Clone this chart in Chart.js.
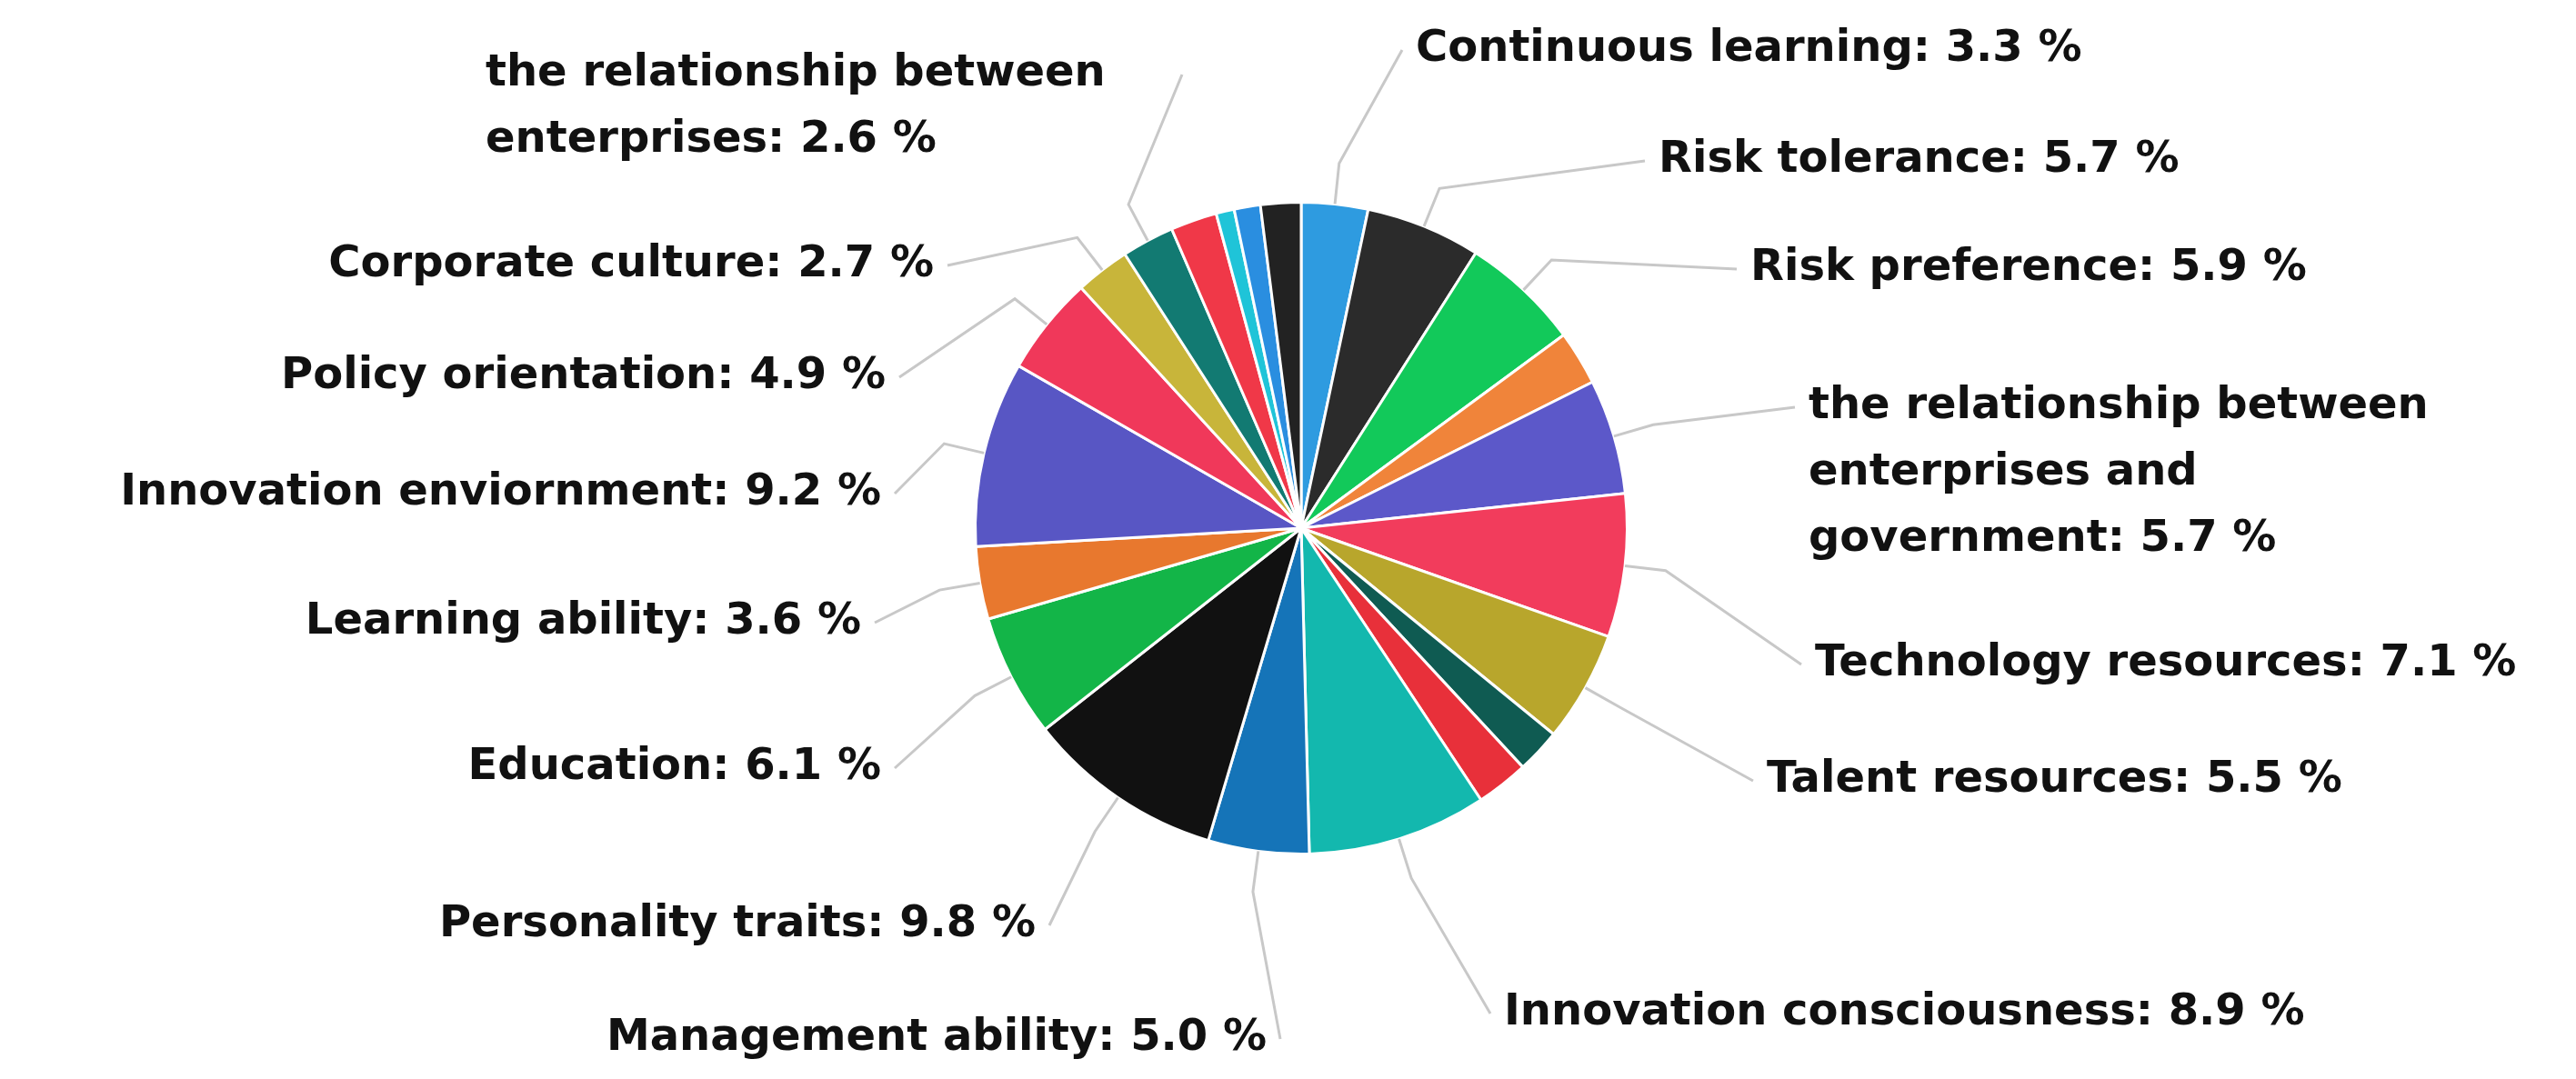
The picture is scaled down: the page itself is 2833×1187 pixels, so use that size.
<!DOCTYPE html>
<html><head><meta charset="utf-8">
<script src="https://cdn.jsdelivr.net/npm/chart.js@4/dist/chart.umd.min.js"></script>
<style>html,body{margin:0;background:#fff}#c{display:block}</style>
</head><body>
<div style="width:2833px;height:1187px"><canvas id="c"></canvas></div>
<script>
const categories = ['Continuous learning','Risk tolerance','Risk preference','',
  'the relationship between\nenterprises and\ngovernment','Technology resources','Talent resources','','',
  'Innovation consciousness','Management ability','Personality traits','Education','Learning ability',
  'Innovation enviornment','Policy orientation','Corporate culture','the relationship between\nenterprises','','','',''];
const values = [3.3,5.7,5.9,2.7,5.7,7.1,5.5,2.2,2.6,8.9,5.0,9.8,6.1,3.6,9.2,4.9,2.7,2.6,2.3,0.9,1.3,2.0];
const colors = ['#2e9be0','#2b2b2b','#12c95a','#f0843a','#5c58c9','#f23c5c','#b8a62c','#0f5b52','#e8303a',
  '#13b8ae','#1574b8','#111111','#13b548','#e8782e','#5856c4','#f0385a','#c8b53a','#127a72','#f03848','#1fc4d8','#2a8ee0','#222222'];
// label layout: [x, y, align, lineEndX]
const labelPos = [[1557,55,'left'],[1824,177,'left'],[1925,296,'left'],null,[1989,448,'left'],[1996,731,'left'],
  [1943,859,'left'],null,null,[1654,1115,'left'],[1393,1143,'right'],[1139,1018,'right'],[969,845,'right'],
  [947,685,'right'],[969,543,'right'],[974,415,'right'],[1027,292,'right'],[534,82,'left',1300],null,null,null,null];

const labelPlugin = {
  id: 'labels',
  afterDatasetsDraw(chart) {
    const ctx = chart.ctx;
    const meta = chart.getDatasetMeta(0);
    ctx.save();
    ctx.font = 'bold 48px "DejaVu Sans"';
    ctx.textBaseline = 'middle';
    meta.data.forEach((arc, i) => {
      const p = labelPos[i];
      if (!p) return;
      const mid = (arc.startAngle + arc.endAngle) / 2;
      const ex = arc.x + Math.cos(mid) * arc.outerRadius, ey = arc.y + Math.sin(mid) * arc.outerRadius;
      const ox = arc.x + Math.cos(mid) * (arc.outerRadius + 45), oy = arc.y + Math.sin(mid) * (arc.outerRadius + 45);
      const lines = (categories[i] + ': ' + values[i].toFixed(1) + ' %').split('\n');
      const lx = p[3] || (p[2] === 'left' ? p[0] - 15 : p[0] + 15);
      ctx.strokeStyle = '#c8c8c8'; ctx.lineWidth = 3;
      ctx.beginPath(); ctx.moveTo(ex, ey); ctx.lineTo(ox, oy); ctx.lineTo(lx, p[1]); ctx.stroke();
      ctx.fillStyle = '#111'; ctx.textAlign = p[2];
      lines.forEach((t, k) => ctx.fillText(t, p[0], p[1] + k * 73));
    });
    ctx.restore();
  }
};

new Chart(document.getElementById('c'), {
  type: 'pie',
  data: { labels: categories, datasets: [{ data: values, backgroundColor: colors, borderColor: '#fff', borderWidth: 3 }] },
  options: {
    responsive: true, maintainAspectRatio: false, animation: false,
    layout: { padding: { top: 221, bottom: 246, left: 1071, right: 1042 } },
    plugins: { legend: { display: false }, tooltip: { enabled: false } }
  },
  plugins: [labelPlugin]
});
</script>
</body></html>
